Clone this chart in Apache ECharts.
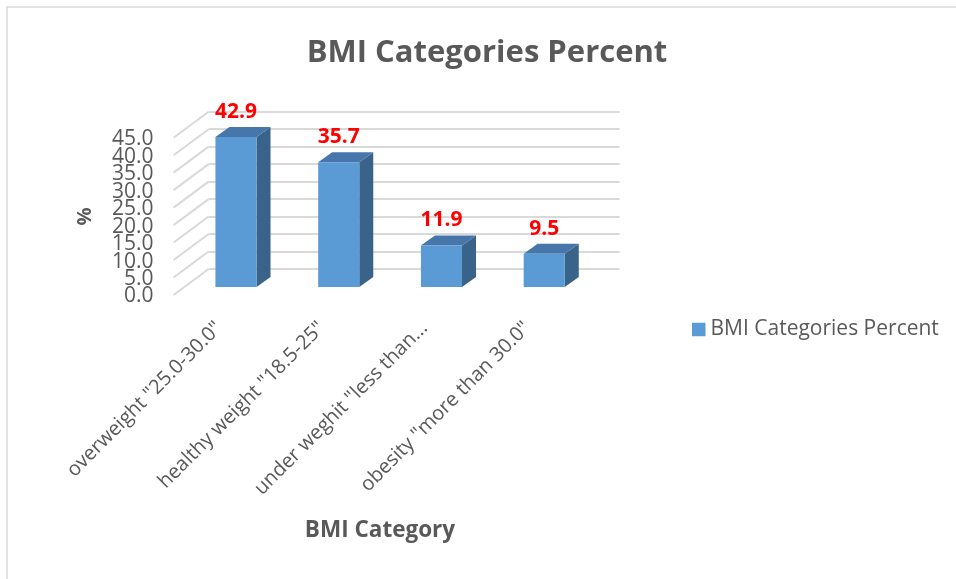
<!DOCTYPE html>
<html>
<head>
<meta charset="utf-8">
<script src="https://cdn.jsdelivr.net/npm/echarts@6/dist/echarts.min.js"></script>
<style>
html,body{margin:0;padding:0;background:#fff;}
#chart{width:956px;height:579px;}
</style>
</head>
<body>
<div id="chart"></div>
<script>
var categories = ['overweight "25.0-30.0"', 'healthy weight "18.5-25"', 'under weghit "less than...', 'obesity "more than 30.0"'];
var percentValues = [42.9, 35.7, 11.9, 9.5];
var yTicks = [0, 5, 10, 15, 20, 25, 30, 35, 40, 45];
var yTickLabels = ['0.0', '5.0', '10.0', '15.0', '20.0', '25.0', '30.0', '35.0', '40.0', '45.0'];
var seriesName = 'BMI Categories Percent';
var chartTitle = 'BMI Categories Percent';
var xAxisTitle = 'BMI Category';
var yAxisTitle = '%';

var FONT = '"Open Sans", sans-serif';
var TXT = '#595959';
var GRIDC = '#D9D9D9';
// 3D depth offsets (style constants)
var BAR_DX = 14, BAR_DY = -10;      // bar depth
var WALL_DX = 35, WALL_DY = 26;     // back wall to front edge
var YLABEL_GAP = 20;

var chart = echarts.init(document.getElementById('chart'), null, {renderer: 'canvas'});

var PH = 157.3;
var option = {
  animation: false,
  backgroundColor: '#ffffff',
  grid: [
    {left: 208.6, top: 111.7, width: 411, height: PH},   // back wall
    {left: 184.6, top: 129.7, width: 411, height: PH},   // bar plane
    {left: 173.6, top: 139.2, width: 411, height: PH},   // front plane (value labels)
    {left: 167.6, top: 129.7, width: 411, height: PH}    // category label plane
  ],
  xAxis: [
    {gridIndex: 0, type: 'value', min: 0, max: 4, show: false},
    {gridIndex: 1, type: 'category', data: categories, show: false},
    {gridIndex: 2, type: 'value', min: 0, max: 4, show: false},
    {gridIndex: 3, type: 'category', data: categories,
      axisLine: {show: false}, axisTick: {show: false}, splitLine: {show: false},
      axisLabel: {interval: 0, rotate: 45, margin: 38, color: TXT, fontSize: 20, fontFamily: FONT}}
  ],
  yAxis: [
    {gridIndex: 0, type: 'value', min: 0, max: 45, interval: 5,
      axisLine: {show: false}, axisTick: {show: false}, axisLabel: {show: false},
      splitLine: {show: true, lineStyle: {color: GRIDC, width: 2}}},
    {gridIndex: 1, type: 'value', min: 0, max: 45, interval: 5, show: false},
    {gridIndex: 2, type: 'value', min: 0, max: 45, interval: 5, show: false},
    {gridIndex: 3, type: 'value', min: 0, max: 45, show: false}
  ],
  legend: {
    left: 692, top: 319, padding: 0, itemWidth: 13.5, itemHeight: 13.5, icon: 'rect',
    textStyle: {color: TXT, fontSize: 21, fontFamily: FONT},
    data: [seriesName]
  },
  graphic: [
    {type: 'rect', silent: true, z: -10, shape: {x: 7, y: 7, width: 1000, height: 1000},
      style: {fill: 'none', stroke: GRIDC, lineWidth: 1.5}},
    {type: 'text', x: 487, y: 53, style: {text: chartTitle, fill: TXT, align: 'center', verticalAlign: 'middle',
      font: 'bold 31px ' + FONT}},
    {type: 'text', x: 85.5, y: 216.5, rotation: Math.PI / 2, style: {text: yAxisTitle, fill: TXT,
      align: 'center', verticalAlign: 'middle', font: 'bold 20px ' + FONT}},
    {type: 'text', x: 380, y: 531, style: {text: xAxisTitle, fill: TXT, align: 'center', verticalAlign: 'middle',
      font: 'bold 22.5px ' + FONT}}
  ],
  series: [
    {
      type: 'custom', name: 'diagonals', xAxisIndex: 0, yAxisIndex: 0, silent: true, z: 1,
      data: yTicks.map(function (t) { return [0, t]; }),
      renderItem: function (params, api) {
        var p = api.coord([0, api.value(1)]);
        return {type: 'line', shape: {x1: p[0], y1: p[1], x2: p[0] - WALL_DX, y2: p[1] + WALL_DY},
          style: {stroke: GRIDC, lineWidth: 2}};
      }
    },
    {
      type: 'custom', name: 'yLabels', xAxisIndex: 2, yAxisIndex: 2, silent: true, z: 2,
      data: yTicks.map(function (t, i) { return [0, t, i]; }),
      renderItem: function (params, api) {
        var p = api.coord([0, api.value(1)]);
        return {type: 'text', x: p[0] - YLABEL_GAP, y: p[1],
          style: {text: yTickLabels[api.value(2)], fill: TXT, align: 'right', verticalAlign: 'middle',
            font: '21px ' + FONT}};
      }
    },
    {
      type: 'custom', name: seriesName, xAxisIndex: 1, yAxisIndex: 1, z: 5,
      itemStyle: {color: '#5B9BD5'},
      data: percentValues.map(function (v, i) { return [i, v]; }),
      renderItem: function (params, api) {
        var v = api.value(1);
        var top = api.coord([api.value(0), v]);
        var base = api.coord([api.value(0), 0]);
        var w = api.size([1, 0])[0] * 0.4;
        var L = top[0] - w / 2, R = top[0] + w / 2, T = top[1], B = base[1];
        return {
          type: 'group',
          children: [
            {type: 'polygon', shape: {points: [[R, T], [R + BAR_DX, T + BAR_DY], [R + BAR_DX, B + BAR_DY], [R, B]]},
              style: {fill: '#3A6389'}},
            {type: 'polygon', shape: {points: [[L, T], [L + BAR_DX, T + BAR_DY], [R + BAR_DX, T + BAR_DY], [R, T]]},
              style: {fill: '#4676AA'}},
            {type: 'rect', shape: {x: L, y: T, width: w, height: B - T},
              style: {fill: '#5B9BD5'}},
            {type: 'text', x: top[0], y: T - 25,
              style: {text: v.toFixed(1), fill: '#FF0000', align: 'center', verticalAlign: 'middle',
                font: 'bold 21px ' + FONT}}
          ]
        };
      }
    }
  ]
};
chart.setOption(option);
</script>
</body>
</html>
